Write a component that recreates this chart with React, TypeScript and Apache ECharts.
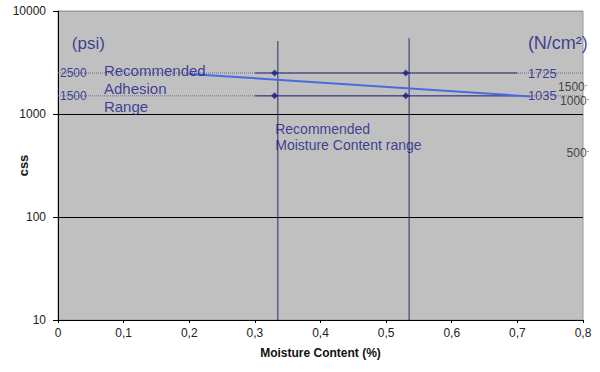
import React, { useEffect, useRef } from "react";
import * as echarts from "echarts";

// Recommended range markers (moisture %, css psi)
const rangePointsX = [0.33, 0.33, 0.53, 0.53];
const rangePointsY = [2500, 1500, 2500, 1500];

// Trend line (moisture %, css psi)
const trendX = [0.2, 0.72];
const trendY = [2450, 1480];

// Adhesion limits (psi)
const adhesionLevels = [2500, 1500];
const adhesionSolidFrom = 0.3;
const adhesionSolidTo = 0.7;
const adhesionDottedTo = 0.81;

// Moisture range lines
const moistureLinesX = [0.335, 0.535];
const moistureLinesTop = [5100, 5450];
const moistureLinesBottom = 10;

// Annotations: text, x, y (data coords)
const noteText = [
  "(psi)",
  "(N/cm²)",
  "2500",
  "1500",
  "Recommended\nAdhesion\nRange",
  "1725",
  "1035",
  "Recommended\nMoisture Content range",
];
const noteX = [0.021, 0.716, 0.003, 0.003, 0.07, 0.716, 0.716, 0.331];
const noteY = [4890, 4890, 2500, 1500, 1787, 2500, 1500, 598];

// Right-hand N/cm² tick labels
const rightText = ["1500", "1000", "500"];
const rightX = [0.762, 0.765, 0.775];
const rightY = [1828, 1337, 418];

const noteSize = [17, 18, 12, 12, 15, 13, 13, 14];
const noteLineHeight = [20, 20, 14, 14, 18, 16, 16, 16];

const NAVY = "#1a1a86";
const FONT = "'Liberation Sans', Arial, sans-serif";

export default function App() {
  const ref = useRef<HTMLDivElement>(null);
  useEffect(() => {
    if (!ref.current) return;
    const chart = echarts.init(ref.current, undefined, { renderer: "svg" });

    const dottedSeries = adhesionLevels.map((lvl) => ({
      type: "line",
      data: [
        [0, lvl],
        [adhesionDottedTo, lvl],
      ],
      symbol: "none",
      clip: false,
      lineStyle: { color: "#6c6c9c", width: 1, type: "dotted" },
      z: 2,
    }));
    const solidSeries = adhesionLevels.map((lvl) => ({
      type: "line",
      data: [
        [adhesionSolidFrom, lvl],
        [adhesionSolidTo, lvl],
      ],
      symbol: "none",
      lineStyle: { color: "#2a2a72", width: 1 },
      z: 3,
    }));
    const verticalSeries = moistureLinesX.map((x, i) => ({
      type: "line",
      data: [
        [x, moistureLinesTop[i]],
        [x, moistureLinesBottom],
      ],
      symbol: "none",
      lineStyle: { color: "#2a2a72", width: 1 },
      z: 3,
    }));

    chart.setOption({
      animation: false,
      backgroundColor: "#ffffff",
      textStyle: { fontFamily: FONT },
      grid: {
        left: 58,
        right: 17,
        top: 11,
        bottom: 52,
        containLabel: false,
        outerBoundsMode: "none",
        show: true,
        backgroundColor: "#c0c0c0",
        borderColor: "#9a9a9a",
        borderWidth: 1,
      },
      xAxis: {
        type: "value",
        min: 0,
        max: 0.8,
        interval: 0.1,
        name: "Moisture Content (%)",
        nameLocation: "middle",
        nameGap: 27,
        nameMoveOverlap: false,
        nameTextStyle: {
          fontFamily: FONT,
          fontWeight: "bold",
          fontSize: 12,
          color: "#111",
        },
        axisLine: { show: true, lineStyle: { color: "#000", width: 1 } },
        axisTick: { show: true, length: 3, lineStyle: { color: "#000" } },
        axisLabel: {
          fontFamily: FONT,
          fontSize: 12,
          color: "#222",
          margin: 7,
          formatter: (v: number) =>
            v === 0 ? "0" : v.toFixed(1).replace(".", ","),
        },
        splitLine: { show: false },
      },
      yAxis: {
        type: "log",
        logBase: 10,
        min: 10,
        max: 10000,
        name: "css",
        nameLocation: "middle",
        nameGap: 28,
        nameMoveOverlap: false,
        nameTextStyle: {
          fontFamily: FONT,
          fontWeight: "bold",
          fontSize: 13,
          color: "#111",
        },
        axisLine: { show: true, lineStyle: { color: "#000", width: 1 } },
        axisTick: { show: true, length: 5, lineStyle: { color: "#000" } },
        axisLabel: {
          fontFamily: FONT,
          fontSize: 12,
          color: "#222",
          margin: 12,
          formatter: (v: number) => String(Math.round(v)),
        },
        splitLine: {
          show: true,
          lineStyle: { color: ["#000", "#000", "#000", "#9a9a9a"], width: 1 },
        },
      },
      series: [
        ...dottedSeries,
        ...solidSeries,
        ...verticalSeries,
        {
          type: "line",
          data: trendX.map((x, i) => [x, trendY[i]]),
          symbol: "none",
          lineStyle: { color: "#4a6be0", width: 2 },
          z: 5,
        },
        {
          type: "scatter",
          data: rangePointsX.map((x, i) => [x, rangePointsY[i]]),
          symbol: "diamond",
          symbolSize: 7,
          itemStyle: { color: NAVY },
          z: 6,
        },
        {
          type: "scatter",
          data: noteText.map((t, i) => ({
            value: [noteX[i], noteY[i]],
            name: t,
            label: {
              fontSize: noteSize[i],
              lineHeight: noteLineHeight[i],
            },
          })),
          symbolSize: 0,
          clip: false,
          silent: true,
          label: {
            show: true,
            position: "right",
            distance: 0,
            align: "left",
            verticalAlign: "middle",
            color: NAVY,
            fontFamily: FONT,
            formatter: (p: any) => p.name,
          },
          z: 7,
        },
        {
          type: "scatter",
          data: rightText.map((t, i) => ({
            value: [rightX[i], rightY[i]],
            name: t,
          })),
          symbolSize: 0,
          clip: false,
          silent: true,
          label: {
            show: true,
            position: "right",
            distance: 0,
            align: "left",
            verticalAlign: "middle",
            color: "#222",
            fontFamily: FONT,
            fontSize: 12,
            formatter: (p: any) => p.name + "{t|-}",
            rich: { t: { fontSize: 8, verticalAlign: "top", color: "#222", padding: [0, 0, 6, 0] } },
          },
          z: 7,
        },
      ],
    });
    return () => chart.dispose();
  }, []);
  return (
    <div
      ref={ref}
      style={{ position: "absolute", left: 0, top: 0, width: 600, height: 372 }}
    />
  );
}
